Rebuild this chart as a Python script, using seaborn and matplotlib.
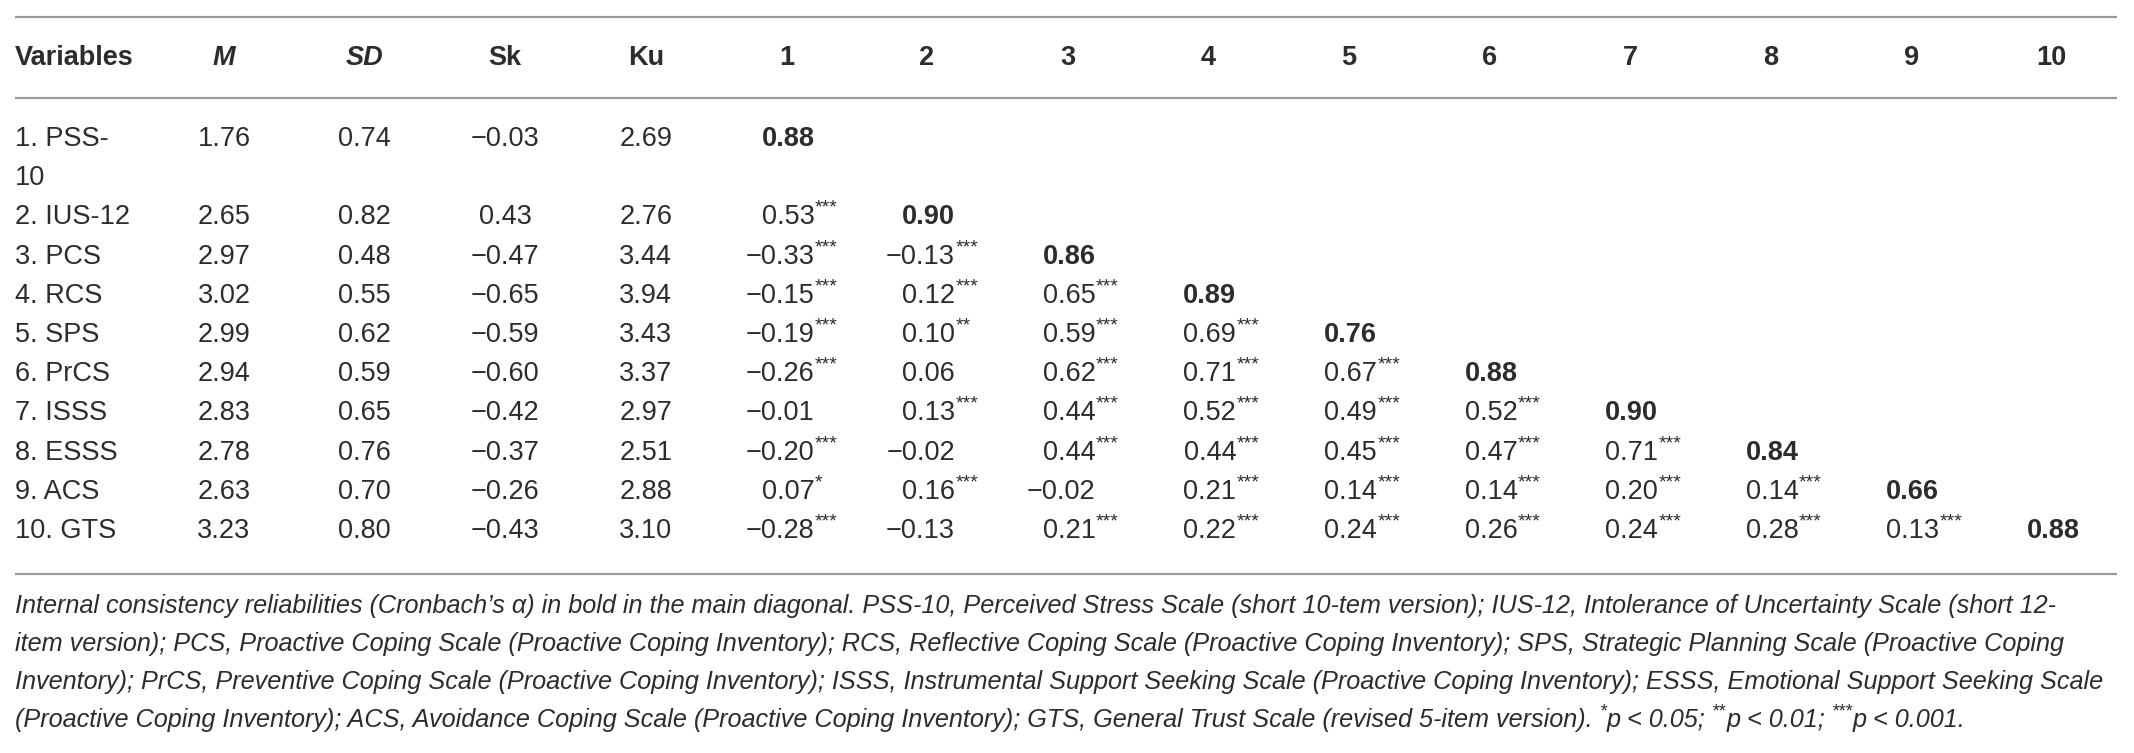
import numpy as np
import pandas as pd
import matplotlib
matplotlib.use('Agg')
import matplotlib.pyplot as plt
import seaborn as sns

sns.set_theme(style='white')
plt.rcParams['font.family'] = ['Liberation Sans', 'DejaVu Sans']

# table content
headers = ['Variables', 'M', 'SD', 'Sk', 'Ku', '1', '2', '3', '4', '5', '6', '7', '8', '9', '10']
variables = ['1. PSS-\n10', '2. IUS-12', '3. PCS', '4. RCS', '5. SPS', '6. PrCS',
             '7. ISSS', '8. ESSS', '9. ACS', '10. GTS']
means = ['1.76', '2.65', '2.97', '3.02', '2.99', '2.94', '2.83', '2.78', '2.63', '3.23']
sds = ['0.74', '0.82', '0.48', '0.55', '0.62', '0.59', '0.65', '0.76', '0.70', '0.80']
skew = ['\u22120.03', '0.43', '\u22120.47', '\u22120.65', '\u22120.59', '\u22120.60',
        '\u22120.42', '\u22120.37', '\u22120.26', '\u22120.43']
kurt = ['2.69', '2.76', '3.44', '3.94', '3.43', '3.37', '2.97', '2.51', '2.88', '3.10']
alphas = ['0.88', '0.90', '0.86', '0.89', '0.76', '0.88', '0.90', '0.84', '0.66', '0.88']
# lower triangle correlations, row by row: (value, stars)
corr = [
    [],
    [('0.53', '***')],
    [('\u22120.33', '***'), ('\u22120.13', '***')],
    [('\u22120.15', '***'), ('0.12', '***'), ('0.65', '***')],
    [('\u22120.19', '***'), ('0.10', '**'), ('0.59', '***'), ('0.69', '***')],
    [('\u22120.26', '***'), ('0.06', ''), ('0.62', '***'), ('0.71', '***'), ('0.67', '***')],
    [('\u22120.01', ''), ('0.13', '***'), ('0.44', '***'), ('0.52', '***'), ('0.49', '***'),
     ('0.52', '***')],
    [('\u22120.20', '***'), ('\u22120.02', ''), ('0.44', '***'), ('0.44', '***'), ('0.45', '***'),
     ('0.47', '***'), ('0.71', '***')],
    [('0.07', '*'), ('0.16', '***'), ('\u22120.02', ''), ('0.21', '***'), ('0.14', '***'),
     ('0.14', '***'), ('0.20', '***'), ('0.14', '***')],
    [('\u22120.28', '***'), ('\u22120.13', ''), ('0.21', '***'), ('0.22', '***'), ('0.24', '***'),
     ('0.26', '***'), ('0.24', '***'), ('0.28', '***'), ('0.13', '***')],
]
footnote = [
    "Internal consistency reliabilities (Cronbach\u2019s \u03b1) in bold in the main diagonal. PSS-10, Perceived Stress Scale (short 10-tem version); IUS-12, Intolerance of Uncertainty Scale (short 12-",
    "item version); PCS, Proactive Coping Scale (Proactive Coping Inventory); RCS, Reflective Coping Scale (Proactive Coping Inventory); SPS, Strategic Planning Scale (Proactive Coping",
    "Inventory); PrCS, Preventive Coping Scale (Proactive Coping Inventory); ISSS, Instrumental Support Seeking Scale (Proactive Coping Inventory); ESSS, Emotional Support Seeking Scale",
]
# last footnote line: (text, is_superscript)
footnote_last = [
    ("(Proactive Coping Inventory); ACS, Avoidance Coping Scale (Proactive Coping Inventory); GTS, General Trust Scale (revised 5-item version). ", False),
    ("*", True), ("p < 0.05; ", False), ("**", True), ("p < 0.01; ", False),
    ("***", True), ("p < 0.001.", False),
]

desc = pd.DataFrame({'M': means, 'SD': sds, 'Sk': skew, 'Ku': kurt}, index=variables)

W, H = 2134, 753
fig = plt.figure(figsize=(W / 100, H / 100), dpi=100)
ax = fig.add_axes([0, 0, 1, 1])
ax.set_xlim(0, W)
ax.set_ylim(H, 0)
ax.axis('off')
renderer = fig.canvas.get_renderer()

txt = '#2c2c2c'
rule = '#9a9a9a'
fs = 19.5
fs_star = 14
fs_note = 18.2
left = 15
col0 = 224
step = 140.6
head_y = 58
row0 = 139
rstep = 39.2
row_y = [row0] + [row0 + rstep * (i + 1) for i in range(1, 10)]
col_x = [col0 + step * k for k in range(14)]
rshift = 28  # right edge of numbers in correlation columns

for y in (17, 98, 574):
    ax.plot([left, 2117], [y, y], color=rule, lw=1.6, solid_capstyle='butt')

# header
ax.text(left, head_y, headers[0], ha='left', va='center', fontsize=fs, fontweight='bold', color=txt)
for k, h in enumerate(headers[1:]):
    style = 'italic' if h in ('M', 'SD') else 'normal'
    ax.text(col_x[k], head_y, h, ha='center', va='center', fontsize=fs,
            fontweight='bold', fontstyle=style, color=txt)

# body
for i, var in enumerate(desc.index):
    y = row_y[i]
    parts = var.split('\n')
    for n, p in enumerate(parts):
        ax.text(left, y + rstep * n, p, ha='left', va='center', fontsize=fs, color=txt)
    for k, c in enumerate(['M', 'SD', 'Sk', 'Ku']):
        ax.text(col_x[k], y, desc.loc[var, c], ha='center', va='center', fontsize=fs, color=txt)
    for j, (val, stars) in enumerate(corr[i]):
        xr = col_x[4 + j] + rshift
        ax.text(xr, y, val, ha='right', va='center', fontsize=fs, color=txt)
        if stars:
            ax.text(xr + 0.5, y - 9, stars, ha='left', va='center', fontsize=fs_star, color=txt)
    ax.text(col_x[4 + i] + rshift, y, alphas[i], ha='right', va='center', fontsize=fs,
            fontweight='bold', color=txt)

# footnote
note_y = [606 + 38 * n for n in range(4)]
for n, line in enumerate(footnote):
    ax.text(left, note_y[n], line, ha='left', va='center', fontsize=fs_note,
            fontstyle='italic', color=txt)

x = left
inv = ax.transData.inverted()
for s, sup in footnote_last:
    if sup:
        t = ax.text(x, note_y[3] - 8, s, ha='left', va='center', fontsize=13,
                    fontstyle='italic', color=txt)
    else:
        t = ax.text(x, note_y[3], s, ha='left', va='center', fontsize=fs_note,
                    fontstyle='italic', color=txt)
    bb = t.get_window_extent(renderer)
    x = inv.transform((bb.x1, bb.y0))[0]

fig.savefig('out.png', dpi=100, facecolor='white')
